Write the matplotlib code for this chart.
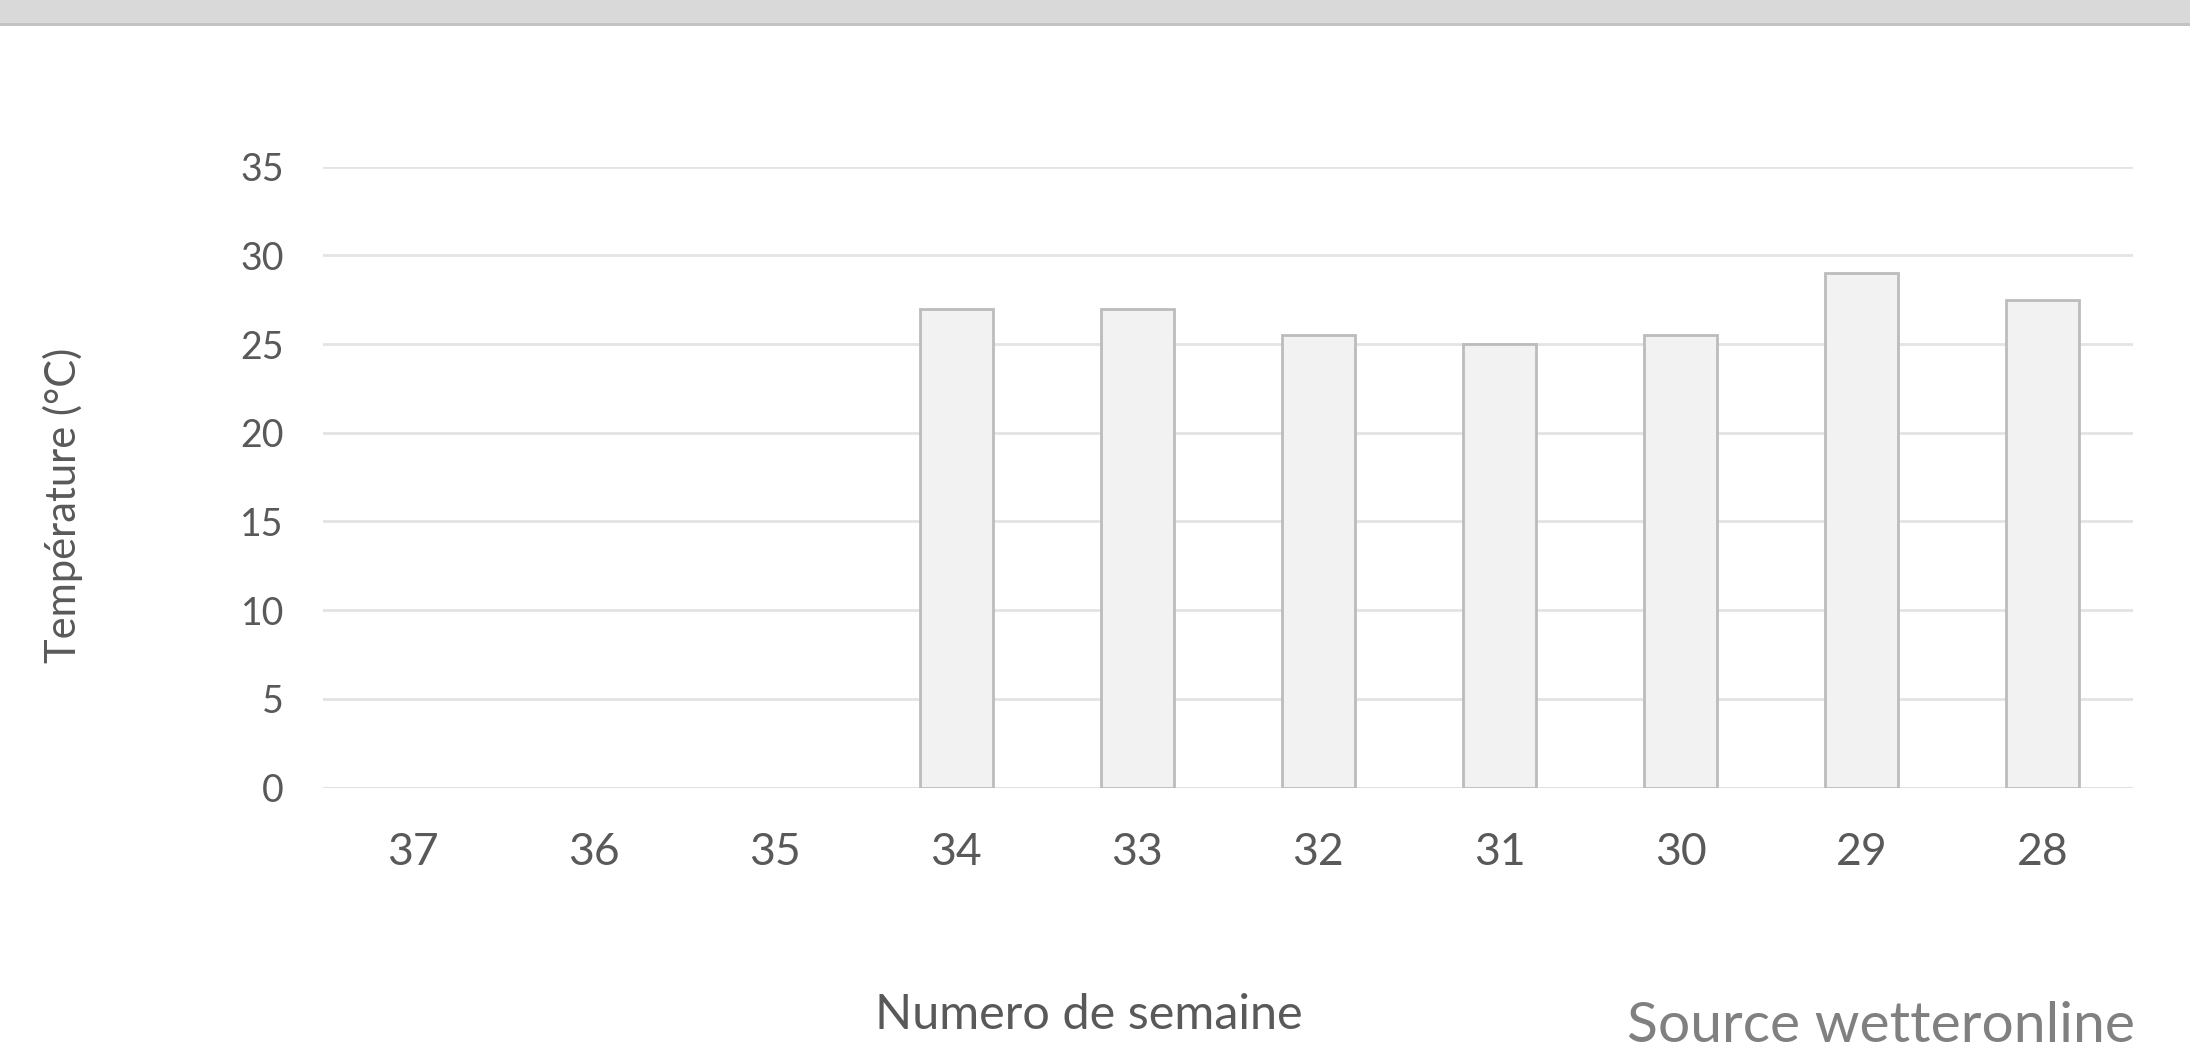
import matplotlib
matplotlib.use("Agg")
import matplotlib.pyplot as plt
from matplotlib.patches import Rectangle

# weeks shown right-to-left in the source chart
semaines = ["37", "36", "35", "34", "33", "32", "31", "30", "29", "28"]
temperatures = [0, 0, 0, 27, 27, 25.5, 25, 25.5, 29, 27.5]
yticks = [0, 5, 10, 15, 20, 25, 30, 35]

plt.rcParams["font.family"] = ["Lato", "DejaVu Sans"]

fig = plt.figure(figsize=(21.9, 10.57), dpi=100, facecolor="white")

# grey strip across the top
fig.patches.append(Rectangle((0, 1 - 23 / 1057), 1, 23 / 1057, transform=fig.transFigure,
                             facecolor="#d9d9d9", edgecolor="none", zorder=0))
fig.patches.append(Rectangle((0, 1 - 26 / 1057), 1, 3 / 1057, transform=fig.transFigure,
                             facecolor="#c3c3c3", edgecolor="none", zorder=0))

ax = fig.add_axes([0.1474, 0.2549, 0.8266, 0.5874])
x = range(len(semaines))
vals = [t if t > 0 else float("nan") for t in temperatures]
ax.bar(x, vals, width=0.40, color="#f2f2f2", edgecolor="#bcbcbc", linewidth=2, zorder=3)

ax.set_xlim(-0.5, len(semaines) - 0.5)
ax.set_ylim(0, 35)
ax.set_yticks(yticks)
ax.set_xticks(list(x))
ax.set_xticklabels(semaines)
ax.yaxis.grid(True, color="#e3e3e3", linewidth=2, zorder=0)
ax.set_axisbelow(True)
for s in ax.spines.values():
    s.set_visible(False)
ax.axhline(0, color="#e0e0e0", linewidth=2, zorder=2)
ax.tick_params(axis="both", length=0, colors="#595959")
ax.tick_params(axis="y", labelsize=27, pad=28)
ax.tick_params(axis="x", labelsize=32, pad=32)

fig.text(63 / 2190, 1 - 505 / 1057, "Température (°C)", rotation=90, ha="center", va="center",
         fontsize=30, color="#595959")
fig.text(1089 / 2190, 1 - 1015 / 1057, "Numero de semaine", ha="center", va="center",
         fontsize=35, color="#595959")
fig.text(1881 / 2190, 1 - 1027 / 1057, "Source wetteronline", ha="center", va="center",
         fontsize=41, color="#808080")

fig.savefig("out.png", dpi=100, facecolor="white")
